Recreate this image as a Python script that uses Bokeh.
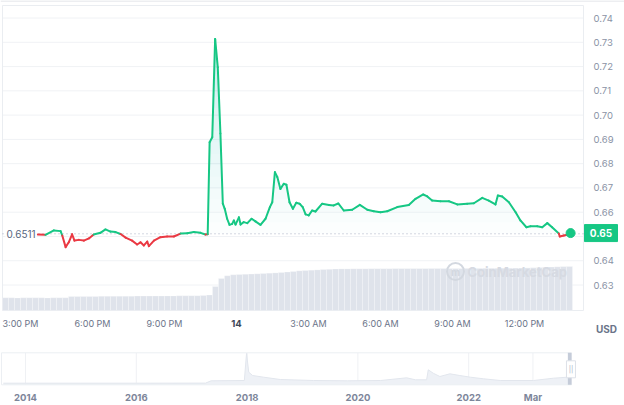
import numpy as np
from bokeh.plotting import figure
from bokeh.models import Range1d, Label
from bokeh.layouts import column
from bokeh.core.properties import value
from bokeh.embed import file_html
from bokeh.resources import INLINE

FONT = "Inter"
GREEN = "#16c784"
RED = "#ea3943"

# --- 1 day price, hours counted from 00:00 on the 13th ---
OPEN_PRICE = 0.6511
price_hours = [15.72, 16.04, 16.39, 16.67, 16.74, 16.88, 17.01, 17.15, 17.25, 17.43,
               17.64, 17.85, 18.05, 18.33, 18.54, 18.75, 18.96, 19.17, 19.38, 19.65,
               19.86, 20.00, 20.14, 20.28, 20.35, 20.56, 20.83, 21.11, 21.39, 21.67,
               21.95, 22.22, 22.50, 22.71, 22.80, 22.88, 22.99, 23.11, 23.22, 23.33,
               23.43, 23.51, 23.61, 23.71, 23.82, 23.89, 23.96, 24.10, 24.17, 24.30,
               24.45, 24.63, 24.79, 25.00, 25.21, 25.39, 25.49, 25.60, 25.70, 25.83,
               25.97, 26.08, 26.21, 26.35, 26.49, 26.63, 26.76, 26.88, 27.01, 27.15,
               27.29, 27.57, 27.85, 28.05, 28.24, 28.47, 28.82, 29.14, 29.45, 29.72,
               30.00, 30.28, 30.70, 31.18, 31.46, 31.78, 31.95, 32.15, 32.50, 32.85,
               33.20, 33.61, 33.89, 34.24, 34.51, 34.79, 34.89, 35.07, 35.35, 35.63,
               35.83, 36.08, 36.25, 36.53, 36.74, 36.95, 37.15, 37.43, 37.47, 37.64,
               37.78, 37.92]
prices = [0.6508, 0.6507, 0.6525, 0.6522, 0.6504, 0.6456, 0.6476, 0.6509, 0.6483, 0.6486,
          0.6483, 0.6492, 0.6508, 0.6515, 0.6529, 0.6520, 0.6518, 0.6510, 0.6495, 0.6483,
          0.6467, 0.6476, 0.6463, 0.6479, 0.6460, 0.6483, 0.6497, 0.6500, 0.6500, 0.6512,
          0.6513, 0.6518, 0.6515, 0.6508, 0.6509, 0.6888, 0.6909, 0.7314, 0.7197, 0.6924,
          0.6635, 0.6614, 0.6573, 0.6548, 0.6552, 0.6566, 0.6549, 0.6579, 0.6549, 0.6559,
          0.6555, 0.6573, 0.6562, 0.6548, 0.6573, 0.6621, 0.6641, 0.6765, 0.6745, 0.6696,
          0.6717, 0.6713, 0.6641, 0.6614, 0.6639, 0.6635, 0.6621, 0.6591, 0.6587, 0.6607,
          0.6603, 0.6635, 0.6630, 0.6628, 0.6636, 0.6607, 0.6610, 0.6630, 0.6610, 0.6604,
          0.6600, 0.6604, 0.6621, 0.6630, 0.6655, 0.6673, 0.6665, 0.6648, 0.6645, 0.6645,
          0.6632, 0.6635, 0.6637, 0.6659, 0.6648, 0.6632, 0.6669, 0.6665, 0.6641, 0.6600,
          0.6566, 0.6538, 0.6542, 0.6542, 0.6538, 0.6555, 0.6538, 0.6512, 0.6500, 0.6504,
          0.6507, 0.6514]
last_label = "0.65"

# 24h volume (M USD), 15-minute bars starting 14:15
volume = [127, 127, 126, 127, 128, 127, 127, 126, 127, 128, 127,
          140, 140, 141, 141, 141, 142, 142, 142, 143, 143, 143, 144,
          144, 144, 145, 145, 146, 146, 147, 147, 148, 148, 149,
          155, 240, 320, 347, 357, 360, 362, 364, 367, 370, 373,
          376, 380, 385, 390, 397, 400, 403, 406, 410, 412,
          415, 416, 416, 417, 417, 417, 418, 418, 418, 418,
          419, 419, 419, 419, 419, 419, 420, 420, 420, 420,
          420, 420, 421, 421, 421, 422, 422, 422, 423, 423,
          424, 425, 426, 428, 430, 432, 435, 437, 439, 440]
vol_hours = 14.375 + 0.25 * np.arange(len(volume))

time_ticks = [15, 18, 21, 24, 27, 30, 33, 36]
time_labels = ["3:00 PM", "6:00 PM", "9:00 PM", "14", "3:00 AM", "6:00 AM", "9:00 AM", "12:00 PM"]
price_ticks = [0.63, 0.64, 0.65, 0.66, 0.67, 0.68, 0.69, 0.70, 0.71, 0.72, 0.73, 0.74]

# --- all-time navigator ---
nav_years = [2013.60, 2014.0, 2015.0, 2016.0, 2017.25, 2017.35, 2017.95, 2017.99, 2018.03, 2018.10,
             2018.30, 2018.60, 2019.20, 2019.81, 2020.41, 2020.88, 2021.04, 2021.24, 2021.27, 2021.36,
             2021.48, 2021.66, 2021.84, 2022.03, 2022.27, 2022.57, 2023.17, 2023.53, 2023.78, 2023.856]
nav_price = [0.16, 0.16, 0.16, 0.16, 0.17, 0.40, 0.43, 3.15, 1.26, 0.93,
             0.76, 0.53, 0.43, 0.40, 0.43, 0.70, 0.50, 0.50, 1.50, 1.16,
             0.83, 1.10, 0.93, 0.76, 0.60, 0.43, 0.43, 0.66, 0.76, 0.70]
nav_ticks = [2014, 2016, 2018, 2020, 2022, 2023.16]
nav_labels = ["2014", "2016", "2018", "2020", "2022", "Mar"]
nav_start, nav_end, nav_top = 2013.567, 2023.856, 3.2

# --- page geometry (px) ---
W, MAIN_H, NAV_H = 624, 345, 60


def hx(px):  # page x -> hour
    return 15 + (px - 20) / 24


def py(px):  # page y -> price
    return OPEN_PRICE - (px - 233.3) / 2427


box_l, box_r, box_t, box_b = hx(2), hx(583), py(5), py(310)

p = figure(width=W, height=MAIN_H, x_range=Range1d(hx(0), hx(W)), y_range=Range1d(py(MAIN_H), py(0)),
           x_axis_location=None, y_axis_location=None, toolbar_location=None, output_backend="svg",
           min_border=0, outline_line_color=None)
p.grid.grid_line_color = None

# page rule on top, horizontal grid + chart box
p.segment(x0=[hx(0)], x1=[hx(W)], y0=[py(0.5)], y1=[py(0.5)], line_color="#e7e9ed", line_width=1.5)
p.segment(x0=box_l, x1=box_r, y0=price_ticks, y1=price_ticks, line_color="#f0f2f5", line_width=1)
p.quad(left=[box_l], right=[box_r], bottom=[box_b], top=[box_t], fill_alpha=0, line_color="#eaedf1")

# volume bars on their own scale (10 units per px, 0 at the box bottom)
p.extra_y_ranges = {"vol": Range1d(-(MAIN_H - 310) * 10, 310 * 10)}
p.vbar(x=vol_hours, top=volume, width=0.25, bottom=0, y_range_name="vol",
       fill_color="#dfe3eb", line_color="white", line_width=0.5, line_alpha=0.45)

# green fill fading towards the open price line
ph = np.array(price_hours)
pr = np.array(prices)
n_layers = 20
for i in range(n_layers):
    lvl = OPEN_PRICE + (box_t - OPEN_PRICE) * i / n_layers
    p.varea(x=ph, y1=lvl, y2=np.maximum(pr, lvl), fill_color=GREEN, fill_alpha=0.013)

p.segment(x0=[box_l], x1=[box_r], y0=[OPEN_PRICE], y1=[OPEN_PRICE],
          line_color="#a6b0c3", line_dash="1 3", line_width=1)

# watermark
p.scatter(x=[hx(455)], y=[py(271)], size=17, fill_alpha=0, line_color="#d3d8e0", line_width=2)
p.text(x=[hx(455)], y=[py(271)], text=["m"], text_align="center", text_baseline="middle",
       text_font=value(FONT), text_font_size="10px", text_font_style="bold", text_color="#d3d8e0")
p.text(x=[hx(467)], y=[py(271)], text=["CoinMarketCap"], text_align="left", text_baseline="middle",
       text_font=value(FONT), text_font_size="13px", text_font_style="bold", text_color="#d6dae2")

# line coloured by side of the open price
seg_color = [GREEN if (a + b) / 2 >= OPEN_PRICE else RED for a, b in zip(prices[:-1], prices[1:])]
p.segment(x0=price_hours[:-1], y0=prices[:-1], x1=price_hours[1:], y1=prices[1:],
          line_color=seg_color, line_width=2, line_cap="round")
p.scatter(x=[price_hours[-1]], y=[prices[-1]], size=9, fill_color=GREEN, line_color=GREEN)

# price scale on the right (0.65 sits under the last-price badge)
y_lab = [(t, f"{t:.2f}") for t in price_ticks if t != 0.65]
p.text(x=hx(593), y=[t for t, _ in y_lab], text=[s for _, s in y_lab], text_align="left",
       text_baseline="middle", text_font=value(FONT), text_font_size="9.5px", text_color="#8a93a6")

# time scale
x_norm = [(t, s) for t, s in zip(time_ticks, time_labels) if s != "14"]
p.text(x=[t for t, _ in x_norm], y=py(323), text=[s for _, s in x_norm], text_align="center",
       text_baseline="middle", text_font=value(FONT), text_font_size="9px", text_color="#6b7489")
p.text(x=[24], y=[py(323)], text=["14"], text_align="center", text_baseline="middle",
       text_font=value(FONT), text_font_size="9.5px", text_font_style="bold", text_color="#3e4757")
p.text(x=[hx(606)], y=[py(328)], text=["USD"], text_align="center", text_baseline="middle",
       text_font=value(FONT), text_font_size="10px", text_font_style="bold", text_color="#6b7489")

# open price tag and last price badge
p.add_layout(Label(x=hx(5), y=OPEN_PRICE, text=f"{OPEN_PRICE}", text_align="left", text_baseline="middle",
                   text_font=FONT, text_font_size="10px", text_color="#58667e",
                   background_fill_color="white", padding=1))
p.rect(x=[hx(600.5)], y=[prices[-1]], width=33, height=17, width_units="screen", height_units="screen",
       fill_color=GREEN, line_color=GREEN)
p.text(x=[hx(600.5)], y=[prices[-1]], text=[last_label], text_align="center", text_baseline="middle",
       text_font=value(FONT), text_font_size="10px", text_font_style="bold", text_color="white")


# navigator
def yr(px):  # page x -> year
    return 2014 + (px - 25) / 55.4


def ny(px):  # page y -> navigator value
    return (384.3 - px) / 10


nav = figure(width=W, height=NAV_H, x_range=Range1d(yr(0), yr(W)), y_range=Range1d(ny(405), ny(345)),
             x_axis_location=None, y_axis_location=None, toolbar_location=None, output_backend="svg",
             min_border=0, outline_line_color=None)
nav.grid.grid_line_color = None
nav.segment(x0=nav_ticks, x1=nav_ticks, y0=0, y1=nav_top, line_color="#eff1f4")
nav.varea(x=nav_years, y1=0, y2=nav_price, fill_color="#eef1f6")
nav.line(x=nav_years, y=nav_price, line_color="#e2e6ed", line_width=1)
nav.quad(left=[nav_start], right=[nav_end], bottom=[0], top=[nav_top], fill_alpha=0, line_color="#eceff3")
nav.quad(left=[2023.79], right=[nav_end], bottom=[0], top=[nav_top], fill_color="#c5ccd9", line_alpha=0)
nav.rect(x=[2023.846], y=[1.55], width=9, height=17, width_units="screen", height_units="screen",
         fill_color="white", line_color="#dde1e8")
nav.text(x=[2023.846], y=[1.55], text=["||"], text_align="center", text_baseline="middle",
         text_font=value(FONT), text_font_size="7px", text_color="#a6b0c3")
nav.text(x=nav_ticks, y=ny(397.3), text=nav_labels, text_align="center", text_baseline="middle",
         text_font=value(FONT), text_font_size="9.5px", text_font_style="bold", text_color="#7d869a")

layout = column(p, nav)
open("out.html", "w").write(file_html(layout, INLINE, "chart"))
